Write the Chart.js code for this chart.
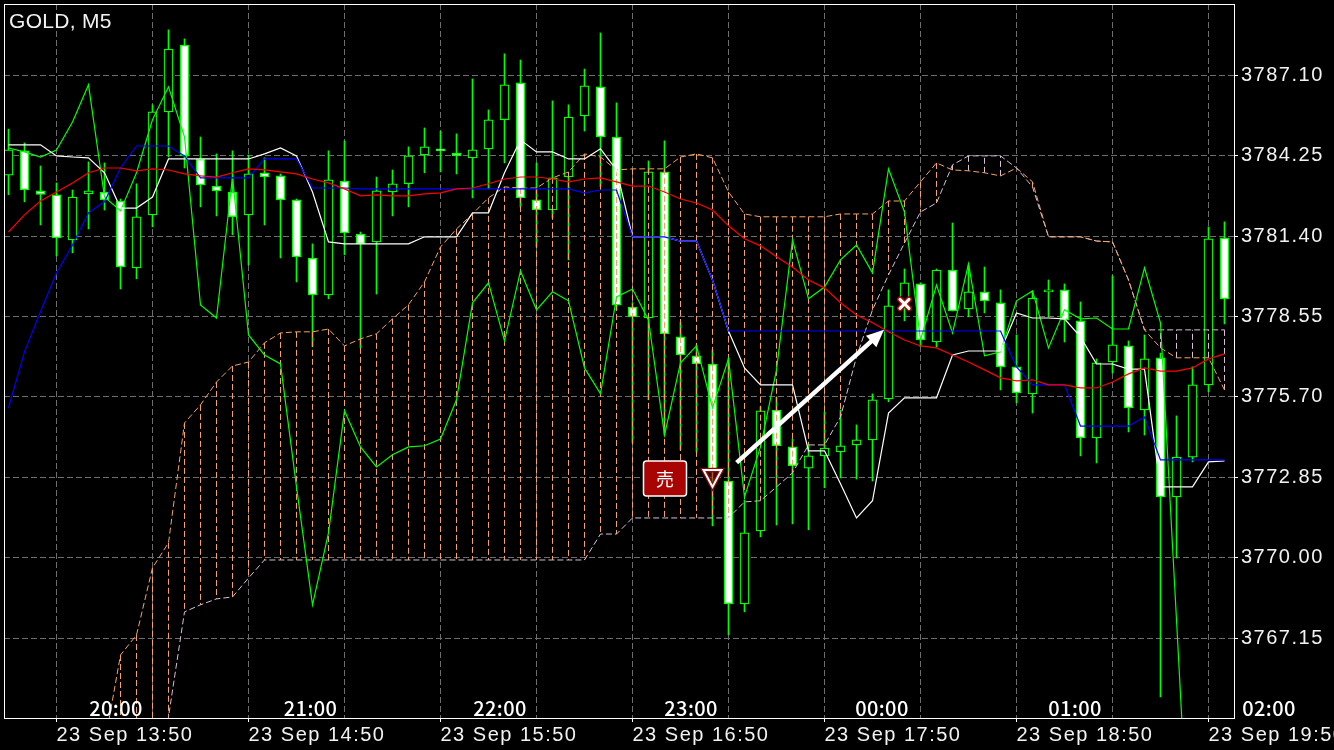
<!DOCTYPE html>
<html>
<head>
<meta charset="utf-8">
<style>
html, body { margin: 0; background: #000; overflow: hidden; }
canvas { display: block; }
</style>
<script src="https://cdn.jsdelivr.net/npm/chart.js@4"></script>
</head>
<body>
<canvas id="chart" width="1334" height="750"></canvas>
<script>
// candles, one row per bar (5 minute bars)
const opens = [3783.57,3784.43,3783.01,3782.87,3781.27,3782.90,3782.97,3782.65,3780.28,3782.16,3785.81,3788.18,3784.14,3783.18,3782.97,3782.16,3783.65,3783.54,3782.69,3780.63,3779.32,3783.36,3781.48,3781.20,3782.97,3783.26,3784.28,3784.50,3784.35,3784.18,3784.50,3785.53,3786.84,3782.69,3782.33,3783.50,3785.67,3786.70,3784.92,3778.89,3778.50,3783.68,3777.83,3777.16,3776.87,3772.72,3768.36,3770.95,3775.24,3773.93,3773.18,3773.61,3773.75,3774.00,3774.18,3775.63,3778.96,3779.71,3777.65,3780.20,3778.82,3779.43,3779.04,3776.77,3775.81,3779.43,3779.50,3778.40,3774.25,3776.94,3777.51,3775.24,3777.09,3772.16,3773.57,3776.13,3781.34];
const highs = [3785.20,3784.71,3783.89,3783.29,3783.04,3784.04,3784.00,3782.72,3783.26,3786.06,3788.72,3788.40,3784.92,3784.32,3784.43,3784.28,3784.18,3783.61,3782.72,3781.13,3784.43,3784.78,3781.55,3783.50,3783.75,3784.57,3785.24,3785.13,3785.03,3786.98,3785.88,3787.87,3787.65,3784.00,3786.20,3786.06,3787.33,3788.61,3786.13,3779.04,3784.07,3784.78,3778.36,3777.55,3777.37,3777.09,3772.05,3775.35,3775.70,3774.21,3774.00,3775.17,3775.24,3774.71,3775.81,3779.50,3780.24,3779.75,3780.24,3781.87,3780.38,3780.31,3779.50,3777.90,3779.46,3779.85,3779.71,3779.07,3777.05,3780.00,3777.69,3777.90,3777.26,3775.03,3776.77,3781.73,3781.91];
const lows = [3782.87,3782.62,3781.80,3780.70,3780.81,3781.66,3782.33,3779.53,3779.89,3781.73,3784.21,3783.82,3782.44,3782.12,3781.45,3780.38,3781.80,3780.63,3779.78,3777.48,3779.18,3780.74,3777.44,3779.35,3782.12,3782.44,3783.65,3783.68,3783.61,3782.76,3783.08,3784.00,3782.44,3781.02,3782.05,3780.56,3785.13,3783.15,3778.79,3774.07,3775.60,3774.35,3773.82,3773.75,3771.13,3767.26,3768.08,3770.74,3771.16,3771.20,3770.99,3772.48,3772.83,3772.79,3772.72,3775.53,3778.40,3777.48,3777.48,3778.75,3778.54,3778.68,3775.95,3775.49,3775.13,3778.54,3777.65,3773.61,3773.36,3776.55,3774.46,3774.35,3765.06,3769.99,3773.40,3775.88,3778.29];
const closes = [3784.46,3783.04,3782.88,3781.34,3782.79,3783.01,3782.69,3780.31,3782.09,3785.81,3788.04,3784.25,3783.22,3783.01,3782.09,3783.61,3783.50,3782.69,3780.67,3779.32,3783.40,3781.52,3781.13,3783.01,3783.26,3784.25,3784.57,3784.43,3784.25,3784.46,3785.53,3786.77,3782.76,3782.33,3783.47,3785.63,3786.73,3784.92,3778.96,3778.54,3783.68,3777.94,3777.19,3776.87,3773.04,3768.36,3770.88,3775.21,3773.97,3773.26,3773.61,3773.89,3773.97,3774.18,3775.60,3778.93,3779.75,3777.72,3780.20,3778.75,3779.43,3779.11,3776.77,3775.84,3779.21,3779.50,3778.43,3774.25,3776.91,3777.55,3775.31,3777.05,3772.16,3773.57,3776.13,3781.31,3779.18];

// indicator lines, same bar numbering as the candles
const tenkan = [3775.31,3777.30,3778.72,3780.10,3781.09,3782.23,3782.62,3783.82,3784.60,3784.60,3784.60,3784.25,3783.47,3783.47,3783.47,3783.47,3784.14,3784.14,3784.14,3783.11,3783.11,3783.11,3783.08,3783.08,3783.08,3783.08,3783.08,3783.08,3783.08,3783.08,3783.08,3783.08,3783.08,3783.08,3783.08,3783.08,3782.94,3783.04,3783.04,3781.38,3781.38,3781.38,3781.23,3781.23,3779.85,3778.04,3778.04,3778.04,3778.04,3778.04,3778.04,3778.04,3778.04,3778.04,3778.04,3778.04,3778.04,3778.04,3778.04,3778.04,3778.04,3778.04,3778.04,3776.77,3776.13,3776.13,3776.13,3774.67,3774.67,3774.67,3774.67,3774.99,3773.47,3773.47,3773.47,3773.47,3773.47];
const kijun = [3784.64,3784.64,3784.64,3784.25,3784.21,3784.18,3783.65,3782.40,3782.40,3782.79,3784.14,3784.14,3784.14,3784.14,3784.14,3784.14,3784.32,3784.53,3784.25,3782.97,3781.20,3781.13,3781.13,3781.13,3781.13,3781.13,3781.38,3781.38,3781.38,3782.23,3782.23,3783.65,3784.82,3784.39,3784.39,3784.14,3784.14,3784.50,3783.75,3781.38,3781.38,3781.38,3781.23,3781.23,3779.85,3778.04,3776.73,3776.13,3776.13,3776.13,3773.79,3773.79,3772.62,3771.41,3772.02,3775.13,3775.67,3775.67,3775.67,3777.19,3777.33,3777.33,3777.33,3778.68,3778.50,3778.50,3778.47,3777.83,3776.87,3776.87,3776.69,3776.69,3772.51,3772.51,3772.51,3773.40,3773.43];
const maLine = [3781.55,3782.16,3782.65,3782.97,3783.29,3783.65,3783.82,3783.82,3783.72,3783.79,3783.75,3783.61,3783.54,3783.50,3783.65,3783.79,3783.75,3783.68,3783.61,3783.43,3783.29,3783.08,3782.83,3782.87,3782.83,3782.83,3782.90,3782.94,3783.08,3783.11,3783.26,3783.43,3783.50,3783.50,3783.43,3783.33,3783.43,3783.47,3783.33,3783.18,3783.18,3782.97,3782.72,3782.58,3782.33,3781.77,3781.31,3781.06,3780.67,3780.31,3779.85,3779.57,3779.04,3778.61,3778.33,3778.01,3777.72,3777.51,3777.44,3777.19,3776.94,3776.66,3776.38,3776.27,3776.31,3776.13,3776.13,3776.02,3776.02,3776.23,3776.52,3776.73,3776.62,3776.62,3776.73,3777.05,3777.23];
const chikou = [3784.53,3784.39,3784.21,3784.46,3785.45,3786.77,3782.79,3782.30,3783.65,3785.53,3786.70,3784.92,3778.96,3778.50,3783.50,3777.90,3777.19,3776.87,3772.51,3768.33,3770.88,3775.21,3773.93,3773.22,3773.65,3773.93,3773.97,3774.21,3775.60,3779.04,3779.75,3777.69,3780.17,3778.79,3779.43,3779.11,3776.73,3775.81,3779.25,3779.53,3778.43,3774.35,3776.91,3777.51,3775.31,3777.05,3772.16,3773.93,3776.66,3781.27,3779.18,3779.60,3780.56,3781.09,3780.10,3783.79,3782.26,3777.72,3779.67,3777.97,3780.42,3777.16,3777.30,3779.11,3779.46,3777.44,3778.79,3778.47,3778.50,3778.11,3778.11,3780.28,3778.33,3767.80,3757.16,null,null];
const spanA = [null,null,null,null,null,null,3763.36,3766.55,3767.26,3769.64,3770.53,3774.78,3775.42,3776.23,3776.80,3776.94,3777.62,3777.97,3778.01,3778.01,3778.11,3777.51,3777.76,3777.94,3778.47,3778.97,3779.78,3781.02,3781.66,3782.19,3782.76,3783.15,3783.11,3783.11,3783.47,3783.68,3784.32,3784.21,3783.75,3783.79,3783.79,3783.79,3784.21,3784.32,3784.18,3782.97,3782.19,3782.09,3782.09,3782.09,3782.09,3782.09,3782.19,3782.19,3782.19,3782.65,3782.65,3783.33,3784.00,3783.75,3783.72,3783.65,3783.54,3783.82,3783.33,3781.38,3781.38,3781.38,3781.23,3781.20,3779.85,3778.08,3777.44,3777.09,3777.09,3777.09,3775.95];
const spanB = [null,null,null,null,null,null,3752.90,3755.74,3758.58,3761.41,3764.36,3768.08,3768.33,3768.54,3768.61,3769.28,3769.92,3769.92,3769.92,3769.92,3769.92,3769.92,3769.92,3769.92,3769.92,3769.92,3769.92,3769.92,3769.92,3769.92,3769.92,3769.92,3769.92,3769.92,3769.92,3769.92,3769.92,3770.84,3770.84,3771.41,3771.41,3771.41,3771.41,3771.41,3771.41,3771.41,3771.98,3772.02,3772.51,3773.01,3774.00,3774.00,3774.99,3777.12,3778.79,3780.03,3781.16,3782.26,3782.58,3783.93,3784.25,3784.25,3784.25,3783.82,3783.15,3781.38,3781.38,3781.38,3781.23,3781.20,3779.85,3778.08,3778.08,3778.08,3778.08,3778.08,3778.08];

// axes
const priceTicks = [3787.10,3784.25,3781.40,3778.55,3775.70,3772.85,3770.00,3767.15];
const gridBars = [3,9,15,21,27,33,39,45,51,57,63,69,75];
const gridLabels = ['23 Sep 13:50','','23 Sep 14:50','','23 Sep 15:50','','23 Sep 16:50','','23 Sep 17:50','','23 Sep 18:50','','23 Sep 19:50'];
const localTimes = ['20:00','21:00','22:00','23:00','00:00','01:00','02:00'];
const localTimeBars = [6.72,18.88,30.72,42.66,54.59,66.66,78.78];

// trade marks
const sellBar = 44, sellPrice = 3773.15;
const exitBar = 56, exitPrice = 3779.00;
const arrowBars = [45.51,54.72], arrowPrices = [3773.37,3778.08];

const GREEN = '#00ff00', ORANGE = '#f4a460', THISTLE = '#d8bfd8', GRID = '#6e6e6e';

const pts = arr => arr.map((y, i) => ({ x: i, y }));
const isDown = i => closes[i] < opens[i];

function bodies(down) {
    return opens.map((o, i) => ({ x: i, y: isDown(i) === down ? [o, closes[i]] : null }));
}

// vertical hatching of the cloud, pairs of points with a gap between
function hatch(orangeSide) {
    const out = [];
    spanA.forEach((a, i) => {
        if (a === null || (a > spanB[i]) !== orangeSide) return;
        out.push({ x: i, y: a }, { x: i, y: spanB[i] }, { x: i, y: null });
    });
    return out;
}

function line(label, data, color, order, width, dash) {
    return { type: 'line', label, data, borderColor: color, borderWidth: width, pointRadius: 0, tension: 0, order, borderDash: dash || [], spanGaps: false };
}

// title, local time row, frame and the trade marks
const overlay = {
    id: 'overlay',
    beforeDraw(c) {
        c.ctx.letterSpacing = '1.5px';
    },
    afterDraw(c) {
        const ctx = c.ctx, a = c.chartArea, sx = c.scales.x, sy = c.scales.y;
        ctx.save();
        ctx.strokeStyle = '#fff';
        ctx.lineWidth = 1;
        ctx.strokeRect(a.left + 0.5, a.top + 0.5, a.right - a.left, a.bottom - a.top);

        ctx.fillStyle = '#f2f2f2';
        ctx.letterSpacing = '0.3px';
        ctx.font = '21px "Liberation Sans"';
        ctx.textBaseline = 'middle';
        ctx.fillText('GOLD, M5', 9, 22);

        ctx.fillStyle = '#fff';
        ctx.letterSpacing = '0.4px';
        ctx.font = '500 20px "Noto Sans CJK JP"';
        ctx.textAlign = 'center';
        localTimes.forEach((t, i) => ctx.fillText(t, sx.getPixelForValue(localTimeBars[i]), 708));
        ctx.letterSpacing = '0px';

        // arrow
        const x0 = sx.getPixelForValue(arrowBars[0]), y0 = sy.getPixelForValue(arrowPrices[0]);
        const x1 = sx.getPixelForValue(arrowBars[1]), y1 = sy.getPixelForValue(arrowPrices[1]);
        const ang = Math.atan2(y1 - y0, x1 - x0);
        ctx.strokeStyle = '#fff';
        ctx.lineWidth = 4.5;
        ctx.beginPath();
        ctx.moveTo(x0, y0);
        ctx.lineTo(x1 - 12 * Math.cos(ang), y1 - 12 * Math.sin(ang));
        ctx.stroke();
        ctx.fillStyle = '#fff';
        ctx.beginPath();
        ctx.moveTo(x1, y1);
        ctx.lineTo(x1 - 19 * Math.cos(ang - 0.42), y1 - 19 * Math.sin(ang - 0.42));
        ctx.lineTo(x1 - 19 * Math.cos(ang + 0.42), y1 - 19 * Math.sin(ang + 0.42));
        ctx.closePath();
        ctx.fill();

        // sell badge and triangle
        const sxp = sx.getPixelForValue(sellBar), syp = sy.getPixelForValue(sellPrice);
        ctx.beginPath();
        ctx.roundRect(sxp - 69, syp - 8, 43, 35, 3);
        ctx.fillStyle = '#a80404';
        ctx.fill();
        ctx.strokeStyle = '#fff';
        ctx.lineWidth = 1.5;
        ctx.stroke();
        ctx.fillStyle = '#fff';
        ctx.font = '18px "Noto Sans CJK JP"';
        ctx.fillText('売', sxp - 47.5, syp + 10);

        ctx.beginPath();
        ctx.moveTo(sxp - 9, syp + 1);
        ctx.lineTo(sxp + 9, syp + 1);
        ctx.lineTo(sxp, syp + 18);
        ctx.closePath();
        ctx.fillStyle = 'rgba(128,0,0,0.5)';
        ctx.fill();
        ctx.strokeStyle = '#8c0a0a';
        ctx.lineWidth = 4.5;
        ctx.stroke();
        ctx.strokeStyle = '#fff';
        ctx.lineWidth = 2;
        ctx.stroke();

        // exit cross
        const ex = sx.getPixelForValue(exitBar), ey = sy.getPixelForValue(exitPrice);
        ctx.beginPath();
        ctx.moveTo(ex - 4.5, ey - 4.5);
        ctx.lineTo(ex + 4.5, ey + 4.5);
        ctx.moveTo(ex + 4.5, ey - 4.5);
        ctx.lineTo(ex - 4.5, ey + 4.5);
        ctx.lineCap = 'round';
        ctx.strokeStyle = '#a80404';
        ctx.lineWidth = 6;
        ctx.stroke();
        ctx.strokeStyle = '#fff';
        ctx.lineWidth = 3;
        ctx.stroke();
        ctx.restore();
    }
};

new Chart(document.getElementById('chart'), {
    type: 'bar',
    data: {
        datasets: [
            { label: 'wick', data: opens.map((o, i) => ({ x: i, y: [lows[i], highs[i]] })), backgroundColor: GREEN, barThickness: 1, grouped: false, order: 10 },
            { label: 'down', data: bodies(true), backgroundColor: '#fff', borderColor: GREEN, borderWidth: 1.5, borderSkipped: false, barThickness: 9, grouped: false, order: 9 },
            { label: 'up', data: bodies(false), backgroundColor: '#000', borderColor: GREEN, borderWidth: 1.25, borderSkipped: false, barThickness: 9, grouped: false, order: 9 },
            line('hatch A', hatch(true), ORANGE, 8, 1, [6, 3]),
            line('hatch B', hatch(false), THISTLE, 8, 1, [6, 3]),
            line('span B', pts(spanB), THISTLE, 7, 1, [6, 3]),
            line('span A', pts(spanA), ORANGE, 6, 1, [6, 3]),
            line('chikou', pts(chikou), GREEN, 5, 1.2),
            line('kijun', pts(kijun), '#fff', 4, 1.2),
            line('tenkan', pts(tenkan), '#0000ff', 3, 1.2),
            line('ma', pts(maLine), '#ff0000', 2, 1.2)
        ]
    },
    options: {
        responsive: false,
        animation: false,
        layout: { padding: { left: 4, top: 4, right: 0, bottom: 0 } },
        plugins: { legend: { display: false }, tooltip: { enabled: false } },
        scales: {
            x: {
                type: 'linear',
                offset: false,
                min: -0.28125,
                max: 76.59375,
                afterBuildTicks: s => { s.ticks = gridBars.map(v => ({ value: v })); },
                afterFit: s => { s.height = 32; s.paddingLeft = 0; s.paddingRight = 0; },
                border: { display: false, dash: [6, 3] },
                grid: {
                    offset: false,
                    color: GRID,
                    tickLength: 4,
                    tickBorderDash: [],
                    tickColor: ctx => (ctx.index % 2 === 0 ? '#fff' : 'transparent')
                },
                ticks: {
                    autoSkip: false,
                    minRotation: 0,
                    maxRotation: 0,
                    align: 'start',
                    padding: 1,
                    color: '#f2f2f2',
                    font: { family: '"Liberation Sans"', size: 20 },
                    callback: v => gridLabels[gridBars.indexOf(v)]
                }
            },
            y: {
                position: 'right',
                min: 3764.3165,
                max: 3789.6355,
                beginAtZero: false,
                afterBuildTicks: s => { s.ticks = priceTicks.map(v => ({ value: v })); },
                afterFit: s => { s.width = 100; s.paddingTop = 0; s.paddingBottom = 0; },
                border: { display: false, dash: [6, 3] },
                grid: { color: GRID, tickLength: 4, tickBorderDash: [], tickColor: '#fff' },
                ticks: {
                    padding: 3,
                    color: '#f2f2f2',
                    font: { family: '"Liberation Sans"', size: 20 },
                    callback: v => v.toFixed(2)
                }
            }
        }
    },
    plugins: [overlay]
});
</script>
</body>
</html>
